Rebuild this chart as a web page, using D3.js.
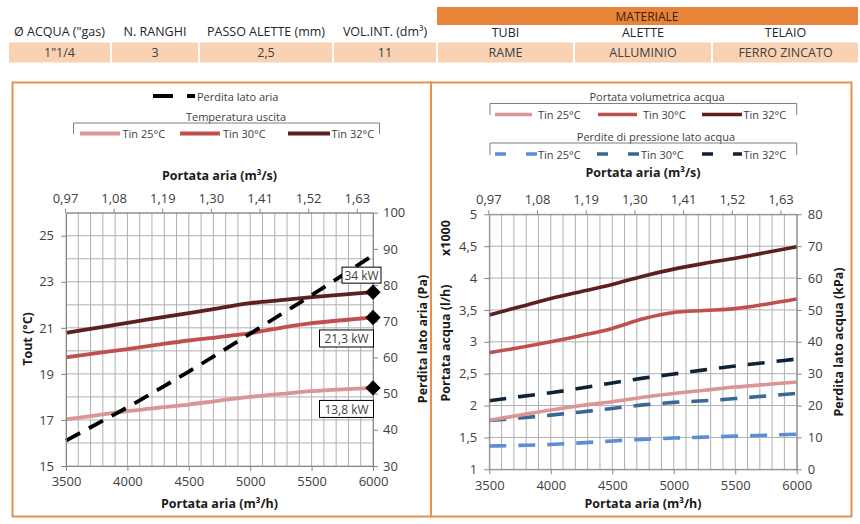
<!DOCTYPE html>
<html><head><meta charset="utf-8">
<script src="https://cdn.jsdelivr.net/npm/d3@7"></script>
<style>
body{margin:0;background:#fff}
svg{display:block;font-family:"Open Sans",sans-serif}
.ax .domain{stroke:#868686}
.ax line{stroke:#868686}
.ax text{fill:#404040;font-size:13px;font-family:"Open Sans",sans-serif}
</style>
</head><body><svg id="c" width="860" height="524"></svg>
<script>
// ---------- DATA ----------
const headerLabels = ["Ø ACQUA (\"gas)", "N. RANGHI", "PASSO ALETTE (mm)", "VOL.INT. (dm³)"];
const headerValues = ["1\"1/4", "3", "2,5", "11"];
const materialTitle = "MATERIALE";
const materialLabels = ["TUBI", "ALETTE", "TELAIO"];
const materialValues = ["RAME", "ALLUMINIO", "FERRO ZINCATO"];

const airFlow = [3500, 3750, 4000, 4250, 4500, 4750, 5000, 5250, 5500, 5750, 6000]; // m3/h
const bottomTicks = [3500, 4000, 4500, 5000, 5500, 6000];
const topTicks = [0.97, 1.08, 1.19, 1.30, 1.41, 1.52, 1.63]; // m3/s

// Left chart: outlet temperature (°C)
const toutTin25 = [17.02, 17.20, 17.38, 17.53, 17.67, 17.84, 18.00, 18.13, 18.25, 18.33, 18.39];
const toutTin30 = [19.72, 19.90, 20.08, 20.27, 20.45, 20.60, 20.77, 21.00, 21.20, 21.33, 21.45];
const toutTin32 = [20.78, 21.00, 21.22, 21.43, 21.64, 21.86, 22.07, 22.20, 22.33, 22.44, 22.55];
// Left chart: air side pressure drop (Pa)
const airPressureDrop = [37.0, 41.6, 46.2, 51.1, 56.1, 61.3, 66.6, 71.9, 77.2, 82.7, 88.2];
const toutTicks = [15, 17, 19, 21, 23, 25];
const paTicks = [30, 40, 50, 60, 70, 80, 90, 100];
const capacityLabels = ["13,8 kW", "21,3 kW", "34 kW"];

// Right chart: water flow (x1000 l/h)
const waterTin25 = [1.77, 1.85, 1.93, 2.00, 2.06, 2.13, 2.19, 2.24, 2.29, 2.33, 2.37];
const waterTin30 = [2.83, 2.91, 3.00, 3.10, 3.21, 3.36, 3.46, 3.49, 3.52, 3.59, 3.67];
const waterTin32 = [3.42, 3.55, 3.68, 3.79, 3.90, 4.03, 4.14, 4.23, 4.31, 4.40, 4.49];
// Right chart: water side pressure drop (kPa)
const dpTin25 = [7.3, 7.5, 7.8, 8.3, 8.9, 9.4, 9.8, 10.1, 10.4, 10.7, 11.0];
const dpTin30 = [15.3, 16.1, 17.0, 18.0, 19.1, 20.2, 21.0, 21.5, 22.2, 23.0, 23.8];
const dpTin32 = [21.5, 22.8, 24.0, 25.5, 27.1, 28.6, 29.9, 31.2, 32.4, 33.5, 34.6];
const flowTicks = [1, 1.5, 2, 2.5, 3, 3.5, 4, 4.5, 5];
const kpaTicks = [0, 10, 20, 30, 40, 50, 60, 70, 80];

const seriesNames = ["Tin 25°C", "Tin 30°C", "Tin 32°C"];

// ---------- STYLE ----------
const redCols = ["#d99694", "#c0504d", "#5e1f1f"];
const blueCols = ["#5b8fd3", "#3a6796", "#0e2238"];
const gridCol = "#b0b0b0";
const frameCol = "#e8914f";
const txt = "#404040";

const loc = d3.formatLocale({decimal: ",", thousands: ".", grouping: [3], currency: ["", "€"]});
const f2 = loc.format(".2f");
const fg = loc.format("~g");

const svg = d3.select("#c");

// ---------- HEADER TABLE ----------
const hCells = [[9, 110], [112, 198], [200, 332], [334, 436]];
const mCells = [[438, 573], [575, 711], [713, 858]];
hCells.forEach((c, i) => {
  svg.append("rect").attr("x", c[0]).attr("y", 42.5).attr("width", c[1] - c[0]).attr("height", 20).attr("fill", "#f9d2b3");
  svg.append("text").attr("x", (c[0] + c[1]) / 2).attr("y", 36).attr("text-anchor", "middle")
    .attr("font-size", 12.5).attr("fill", "#262626").text(headerLabels[i]);
  svg.append("text").attr("x", (c[0] + c[1]) / 2).attr("y", 57).attr("text-anchor", "middle")
    .attr("font-size", 12.5).attr("fill", "#404040").text(headerValues[i]);
});
svg.append("rect").attr("x", 437).attr("y", 7).attr("width", 421).attr("height", 18).attr("fill", "#e8833a");
svg.append("text").attr("x", 647).attr("y", 20.5).attr("text-anchor", "middle").attr("font-size", 12)
  .attr("fill", "#3a2010").text(materialTitle);
mCells.forEach((c, i) => {
  svg.append("rect").attr("x", c[0]).attr("y", 42.5).attr("width", c[1] - c[0]).attr("height", 20).attr("fill", "#f9d2b3");
  svg.append("text").attr("x", (c[0] + c[1]) / 2).attr("y", 37).attr("text-anchor", "middle")
    .attr("font-size", 12.5).attr("fill", "#262626").text(materialLabels[i]);
  svg.append("text").attr("x", (c[0] + c[1]) / 2).attr("y", 57).attr("text-anchor", "middle")
    .attr("font-size", 12.5).attr("fill", "#404040").text(materialValues[i]);
});

// ---------- PANEL FRAMES ----------
svg.append("rect").attr("x", 12.5).attr("y", 82.5).attr("width", 418.5).attr("height", 434).attr("fill", "none").attr("stroke", frameCol).attr("stroke-width", 2);
svg.append("rect").attr("x", 431).attr("y", 82.5).attr("width", 420.5).attr("height", 434).attr("fill", "none").attr("stroke", frameCol).attr("stroke-width", 2);

// ---------- helpers ----------
function grid(g, x, y, xs, ys) {
  g.selectAll(null).data(xs).join("line")
    .attr("x1", d => x(d)).attr("x2", d => x(d)).attr("y1", y.range()[0]).attr("y2", y.range()[1])
    .attr("stroke", gridCol).attr("stroke-width", 1);
  g.selectAll(null).data(ys).join("line")
    .attr("y1", d => y(d)).attr("y2", d => y(d)).attr("x1", x.range()[0]).attr("x2", x.range()[1])
    .attr("stroke", gridCol).attr("stroke-width", 1);
}
function rotText(x, y, s, bold) {
  svg.append("text").attr("transform", `translate(${x},${y}) rotate(-90)`).attr("text-anchor", "middle")
    .attr("dominant-baseline", "central").attr("font-size", 12.5).attr("font-weight", bold ? 700 : 400)
    .attr("fill", "#1a1a1a").text(s);
}
function title(x, y, s) {
  svg.append("text").attr("x", x).attr("y", y).attr("text-anchor", "middle").attr("font-size", 12.5)
    .attr("font-weight", 700).attr("fill", "#1a1a1a").text(s);
}
function legText(x, y, s) {
  svg.append("text").attr("x", x).attr("y", y).attr("dominant-baseline", "central").attr("font-size", 11)
    .attr("fill", txt).text(s);
}
function bracket(x0, x1, yTop, yBot) {
  svg.append("path").attr("d", `M${x0},${yBot}V${yTop}H${x1}V${yBot}`).attr("fill", "none").attr("stroke", "#7f7f7f");
}

// ---------- LEFT CHART ----------
const xL = d3.scaleLinear().domain([3500, 6000]).range([66, 373]);
const xLtop = d3.scaleLinear().domain([3500 / 3600, 6000 / 3600]).range([66, 373]);
const yL = d3.scaleLinear().domain([15, 26]).range([466, 212.7]);
const yL2 = d3.scaleLinear().domain([30, 100]).range([466, 212.7]);
const gL = svg.append("g");
grid(gL, xL, yL, d3.range(3500, 6001, 100), d3.range(15, 27, 1));

const lineL = d3.line().x((d, i) => xL(airFlow[i])).y(d => yL(d)).curve(d3.curveMonotoneX);
[toutTin25, toutTin30, toutTin32].forEach((s, i) => {
  gL.append("path").attr("d", lineL(s)).attr("fill", "none").attr("stroke", redCols[i]).attr("stroke-width", 3.8);
});
const lineL2 = d3.line().x((d, i) => xL(airFlow[i])).y(d => yL2(d)).curve(d3.curveMonotoneX);
gL.append("path").attr("d", lineL2(airPressureDrop)).attr("fill", "none").attr("stroke", "#000")
  .attr("stroke-width", 3.8).attr("stroke-dasharray", "16,10");

svg.append("g").attr("class", "ax").attr("transform", "translate(0,466)")
  .call(d3.axisBottom(xL).tickValues(bottomTicks).tickFormat(d3.format("d")).tickSize(5).tickSizeOuter(0).tickPadding(6));
svg.append("g").attr("class", "ax").attr("transform", "translate(0,212.7)")
  .call(d3.axisTop(xLtop).tickValues(topTicks).tickFormat(f2).tickSize(4).tickSizeOuter(0).tickPadding(6));
svg.append("g").attr("class", "ax").attr("transform", "translate(66,0)")
  .call(d3.axisLeft(yL).tickValues(toutTicks).tickSize(5).tickSizeOuter(0).tickPadding(7));
svg.append("g").attr("class", "ax").attr("transform", "translate(373,0)")
  .call(d3.axisRight(yL2).tickValues(paTicks).tickSize(5).tickSizeOuter(0).tickPadding(5));

// diamonds + capacity labels
const last = airFlow.length - 1;
[toutTin25, toutTin30, toutTin32].forEach((s, i) => {
  const cx = xL(airFlow[last]), cy = yL(s[last]);
  svg.append("path").attr("d", d3.symbol(d3.symbolDiamond2, 150)()).attr("transform", `translate(${cx},${cy})`)
    .attr("fill", "#000");
  const above = i === 2;
  const bw = above ? 39 : 54, bh = above ? 16 : 17;
  const bx = above ? cx - 31 : cx - 53.5;
  const by = above ? cy - 25 : cy + 12.5;
  svg.append("rect").attr("x", bx).attr("y", by).attr("width", bw).attr("height", bh)
    .attr("fill", "#fff").attr("stroke", "#000").attr("stroke-width", 1);
  svg.append("text").attr("x", bx + bw / 2).attr("y", by + bh / 2 + 0.5).attr("text-anchor", "middle")
    .attr("dominant-baseline", "central").attr("font-size", 12).attr("fill", txt).text(capacityLabels[i]);
});

title(219.5, 180, "Portata aria (m³/s)");
title(219.5, 508, "Portata aria (m³/h)");
rotText(27, 339, "Tout (°C)", true);
rotText(422, 339, "Perdita lato aria (Pa)", true);

// left legend
svg.append("line").attr("x1", 153).attr("x2", 195).attr("y1", 96).attr("y2", 96).attr("stroke", "#000")
  .attr("stroke-width", 3.8).attr("stroke-dasharray", "20,14");
legText(197, 96, "Perdita lato aria");
svg.append("text").attr("x", 236).attr("y", 116).attr("text-anchor", "middle").attr("dominant-baseline", "central")
  .attr("font-size", 11).attr("fill", txt).text("Temperatura uscita");
bracket(73.5, 379.5, 123, 134);
[[80, 120, 122.5], [180, 220, 223], [288, 330, 331.5]].forEach((p, i) => {
  svg.append("line").attr("x1", p[0]).attr("x2", p[1]).attr("y1", 133.5).attr("y2", 133.5)
    .attr("stroke", redCols[i]).attr("stroke-width", 3.8);
  legText(p[2], 133.5, seriesNames[i]);
});

// ---------- RIGHT CHART ----------
const xR = d3.scaleLinear().domain([3500, 6000]).range([489.3, 796.7]);
const xRtop = d3.scaleLinear().domain([3500 / 3600, 6000 / 3600]).range([489.3, 796.7]);
const yR = d3.scaleLinear().domain([1, 5]).range([469.3, 214.3]);
const yR2 = d3.scaleLinear().domain([0, 80]).range([469.3, 214.3]);
const gR = svg.append("g");
grid(gR, xR, yR, d3.range(3500, 6001, 100), d3.range(1, 5.01, 0.5));

const lineR = d3.line().x((d, i) => xR(airFlow[i])).y(d => yR(d)).curve(d3.curveMonotoneX);
const lineR2 = d3.line().x((d, i) => xR(airFlow[i])).y(d => yR2(d)).curve(d3.curveMonotoneX);
[dpTin25, dpTin30, dpTin32].forEach((s, i) => {
  gR.append("path").attr("d", lineR2(s)).attr("fill", "none").attr("stroke", blueCols[i])
    .attr("stroke-width", 3.6).attr("stroke-dasharray", "17,12");
});
[waterTin25, waterTin30, waterTin32].forEach((s, i) => {
  gR.append("path").attr("d", lineR(s)).attr("fill", "none").attr("stroke", redCols[i]).attr("stroke-width", 3.6);
});

svg.append("g").attr("class", "ax").attr("transform", "translate(0,469.3)")
  .call(d3.axisBottom(xR).tickValues(bottomTicks).tickFormat(d3.format("d")).tickSize(5).tickSizeOuter(0).tickPadding(6));
svg.append("g").attr("class", "ax").attr("transform", "translate(0,214.3)")
  .call(d3.axisTop(xRtop).tickValues(topTicks).tickFormat(f2).tickSize(4).tickSizeOuter(0).tickPadding(6));
svg.append("g").attr("class", "ax").attr("transform", "translate(489.3,0)")
  .call(d3.axisLeft(yR).tickValues(flowTicks).tickFormat(fg).tickSize(5).tickSizeOuter(0).tickPadding(7));
svg.append("g").attr("class", "ax").attr("transform", "translate(796.7,0)")
  .call(d3.axisRight(yR2).tickValues(kpaTicks).tickSize(5).tickSizeOuter(0).tickPadding(6));

title(643, 177, "Portata aria (m³/s)");
title(643, 508, "Portata aria (m³/h)");
rotText(445, 343, "Portata acqua (l/h)", true);
rotText(445, 238, "x1000", true);
rotText(838, 342, "Perdita lato acqua (kPa)", true);

// right legend
svg.append("text").attr("x", 657).attr("y", 96).attr("text-anchor", "middle").attr("dominant-baseline", "central")
  .attr("font-size", 11).attr("fill", txt).text("Portata volumetrica acqua");
bracket(490, 796.7, 103.5, 115);
[[495, 532, 538], [598, 637, 643], [702, 742, 743.5]].forEach((p, i) => {
  svg.append("line").attr("x1", p[0]).attr("x2", p[1]).attr("y1", 114.5).attr("y2", 114.5)
    .attr("stroke", redCols[i]).attr("stroke-width", 3.6);
  legText(p[2], 114.5, seriesNames[i]);
});
svg.append("text").attr("x", 656).attr("y", 136).attr("text-anchor", "middle").attr("dominant-baseline", "central")
  .attr("font-size", 11).attr("fill", txt).text("Perdite di pressione lato acqua");
bracket(490, 796.7, 143, 155);
[[495, 537, 538], [597, 639, 641], [702, 742, 743.5]].forEach((p, i) => {
  svg.append("line").attr("x1", p[0]).attr("x2", p[1]).attr("y1", 154).attr("y2", 154)
    .attr("stroke", blueCols[i]).attr("stroke-width", 3.6).attr("stroke-dasharray", "11,20");
  legText(p[2], 154, seriesNames[i]);
});
</script>
</body></html>
